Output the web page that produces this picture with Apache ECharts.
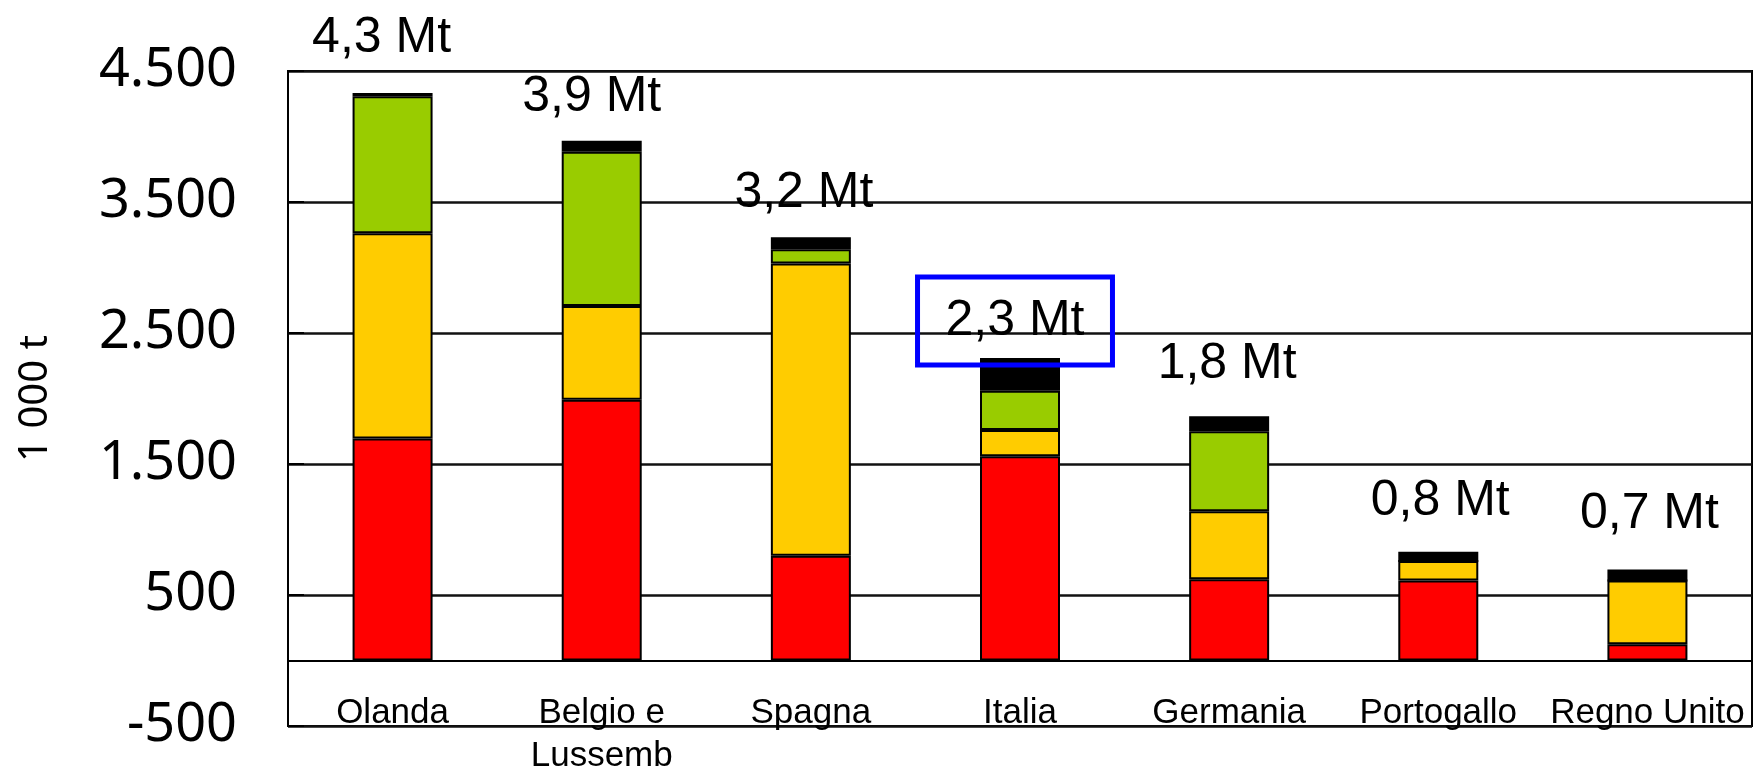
<!DOCTYPE html>
<html>
<head>
<meta charset="utf-8">
<script src="https://cdn.jsdelivr.net/npm/echarts@6/dist/echarts.min.js"></script>
<style>
  html, body { margin: 0; padding: 0; background: #fff; }
  #chart { width: 1758px; height: 768px; }
</style>
</head>
<body>
<div id="chart"></div>
<script>
// paesi
const categories = ['Olanda', 'Belgio e\nLussemb', 'Spagna', 'Italia', 'Germania', 'Portogallo', 'Regno Unito'];
// valori in 1 000 t, dal basso verso l'alto
const redValues = [1695, 1990, 800, 1560, 620, 610, 125];
const yellowValues = [1567, 716, 2230, 200, 520, 150, 485];
const greenValues = [1045, 1178, 110, 300, 610, 0, 0];
const blackValues = [25, 84, 90, 250, 114, 70, 85];
const totalLabels = ['4,3 Mt', '3,9 Mt', '3,2 Mt', '2,3 Mt', '1,8 Mt', '0,8 Mt', '0,7 Mt'];
const yTicks = { min: -500, max: 4500, interval: 1000 };

// spostamento etichette (solo stile)
const labelDistance = [32, 20, 21, -7, 29, 28, 32];
const labelShiftX = [-11, -10, -7, -5, -2, 2, 2];
const boxedIndex = 3; // Italia nel riquadro blu

const chart = echarts.init(document.getElementById('chart'));

function segment(name, values, color) {
  return {
    name: name,
    type: 'bar',
    stack: 'tot',
    barWidth: 80,
    data: values,
    itemStyle: { color: color, borderColor: '#000', borderWidth: 2 },
    emphasis: { disabled: true }
  };
}

const topSeries = segment('nero', blackValues.map((v, i) => ({
  value: v,
  label: i === boxedIndex ? {
    distance: labelDistance[i],
    offset: [labelShiftX[i], 0],
    borderColor: '#0000FF',
    borderWidth: 5,
    padding: [21, 28]
  } : {
    distance: labelDistance[i],
    offset: [labelShiftX[i], 0]
  }
})), '#000000');
topSeries.label = {
  show: true,
  position: 'top',
  formatter: p => totalLabels[p.dataIndex],
  fontFamily: 'Liberation Sans',
  fontSize: 50,
  lineHeight: 46,
  color: '#000'
};

chart.setOption({
  animation: false,
  grid: {
    left: 288, right: 6, top: 71, bottom: 42,
    outerBoundsMode: 'none',
    containLabel: false,
    show: true, borderColor: '#000', borderWidth: 2
  },
  xAxis: {
    type: 'category',
    data: categories,
    axisLine: { onZero: true, lineStyle: { color: '#000', width: 2 } },
    axisTick: { show: false },
    axisLabel: {
      margin: -34,
      fontFamily: 'Liberation Sans',
      fontSize: 35,
      lineHeight: 43,
      color: '#000',
      interval: 0
    }
  },
  yAxis: {
    type: 'value',
    min: yTicks.min,
    max: yTicks.max,
    interval: yTicks.interval,
    name: '1 000 t',
    nameLocation: 'middle',
    nameGap: 232,
    nameTextStyle: { fontFamily: 'Noto Sans', fontSize: 40, color: '#000' },
    axisLine: { show: true, lineStyle: { color: '#000', width: 2 } },
    axisTick: { show: true, inside: true, length: 16, lineStyle: { color: '#000', width: 2 } },
    splitLine: { lineStyle: { color: '#111', width: 2.5 } },
    axisLabel: {
      margin: 51,
      fontFamily: 'Noto Sans',
      fontSize: 54,
      color: '#000',
      formatter: v => v < 0 ? '-' + String(-v).replace(/\B(?=(\d{3})+$)/g, '.')
                            : String(v).replace(/\B(?=(\d{3})+$)/g, '.')
    }
  },
  series: [
    segment('rosso', redValues, '#FF0000'),
    segment('giallo', yellowValues, '#FFCC00'),
    segment('verde', greenValues, '#99CC00'),
    topSeries
  ]
});
</script>
</body>
</html>
